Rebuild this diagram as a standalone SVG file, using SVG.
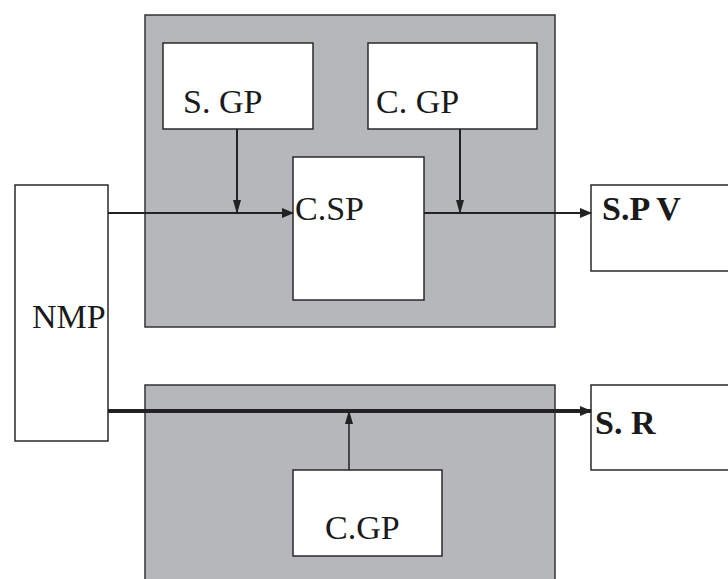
<svg xmlns="http://www.w3.org/2000/svg" width="728" height="579" viewBox="0 0 728 579">
<style>
.gray{fill:#b6b7ba;stroke:#333;stroke-width:1.5}
.box{fill:#fff;stroke:#2a2a2a;stroke-width:1.5}
.lbl{font-family:"Liberation Serif","Times New Roman",serif;font-size:34px;fill:#1a1a1a}
.b{font-weight:bold}
.ln{stroke:#222;stroke-width:2;fill:none}
</style>
<defs>
<marker id="ah" markerWidth="12" markerHeight="10" refX="11" refY="5" orient="auto" markerUnits="userSpaceOnUse">
<path d="M0,0 L12,5 L0,10 Z" fill="#222"/>
</marker>
<marker id="ahn" markerWidth="14" markerHeight="8" refX="13" refY="4" orient="auto" markerUnits="userSpaceOnUse">
<path d="M0,0 L14,4 L0,8 Z" fill="#222"/>
</marker>
</defs>
<rect width="728" height="579" fill="#fff"/>
<g id="upper-block"><rect class="gray" x="145" y="15" width="410" height="312"/></g>
<g id="lower-block"><rect class="gray" x="145" y="385" width="410" height="200"/></g>
<g id="sgp"><rect class="box" x="163" y="43" width="150" height="86"/><text class="lbl" x="183" y="113">S. GP</text></g>
<g id="cgp-top"><rect class="box" x="368" y="43" width="169" height="86"/><text class="lbl" x="376" y="113">C. GP</text></g>
<g id="csp"><rect class="box" x="293" y="157" width="131" height="143"/><text class="lbl" x="295" y="220">C.SP</text></g>
<g id="nmp"><rect class="box" x="15" y="185" width="93" height="256"/><text class="lbl" x="32" y="328">NMP</text></g>
<g id="spv"><rect class="box" x="591" y="185" width="140" height="86"/><text class="lbl b" x="602" y="220">S.P V</text></g>
<g id="sr"><rect class="box" x="591" y="385" width="140" height="85"/><text class="lbl b" x="595" y="434">S. R</text></g>
<g id="cgp-bottom"><rect class="box" x="293" y="470" width="149" height="86"/><text class="lbl" x="325" y="539">C.GP</text></g>
<g id="connectors">
<line class="ln" x1="108" y1="213" x2="293" y2="213" marker-end="url(#ah)"/>
<line class="ln" x1="237" y1="129" x2="237" y2="213" marker-end="url(#ahn)"/>
<line class="ln" x1="460" y1="129" x2="460" y2="213" marker-end="url(#ahn)"/>
<line class="ln" x1="424" y1="213" x2="591" y2="213" marker-end="url(#ah)"/>
<line class="ln" x1="108" y1="411" x2="591" y2="411" style="stroke-width:4" marker-end="url(#ah)"/>
<line class="ln" x1="349" y1="470" x2="349" y2="411" style="stroke-width:1.5" marker-end="url(#ahn)"/>
</g>
</svg>
